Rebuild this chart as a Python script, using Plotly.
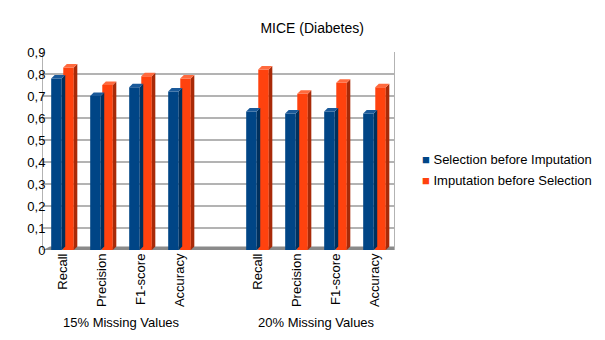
"""
MICE (Diabetes): selection vs imputation order, pseudo-3D grouped bars.
"""

import plotly.graph_objects as go

METRICS = ["Recall", "Precision", "F1-score", "Accuracy"]
GROUPS = ["15% Missing Values", "20% Missing Values"]
SERIES = ["Selection before Imputation", "Imputation before Selection"]

sel_before_imp = [0.78, 0.70, 0.74, 0.72, 0.63, 0.62, 0.63, 0.62]
imp_before_sel = [0.83, 0.75, 0.79, 0.78, 0.82, 0.71, 0.76, 0.74]

Y_TICKS = [0, 0.1, 0.2, 0.3, 0.4, 0.5, 0.6, 0.7, 0.8, 0.9]
Y_TICK_TEXT = ["0", "0,1", "0,2", "0,3", "0,4", "0,5", "0,6", "0,7", "0,8", "0,9"]

FONT = "Liberation Sans, Arial, sans-serif"
FRONT = ["#004586", "#ff420e"]
SIDE = ["#00305d", "#a82a08"]
TOP = ["#1a5a9a", "#ff6a3e"]
GRID = "#b3b3b3"

# slot positions: one empty slot between the two groups
xpos = [i for i in range(4)] + [i + 5 for i in range(4)]
tick_labels = METRICS + METRICS

BAR_W = 0.27
OFFSETS = [-0.29, 0.02]
DX, DY = 0.09, 0.016  # depth of the fake 3D faces

fig = go.Figure()
shapes = []

for k, (name, vals) in enumerate(zip(SERIES, [sel_before_imp, imp_before_sel])):
    fig.add_trace(
        go.Bar(
            x=xpos,
            y=vals,
            name=name,
            width=BAR_W,
            offset=OFFSETS[k],
            marker=dict(color=FRONT[k], line=dict(width=0)),
            hovertemplate="%{y}<extra>" + name + "</extra>",
            showlegend=False,
        )
    )
    for x, v in zip(xpos, vals):
        x0 = x + OFFSETS[k]
        x1 = x0 + BAR_W
        # side face
        shapes.append(dict(
            type="path", xref="x", yref="y", layer="above", line=dict(width=0),
            fillcolor=SIDE[k],
            path=f"M{x1},0 L{x1 + DX},{DY} L{x1 + DX},{v + DY} L{x1},{v} Z",
        ))
        # top face
        shapes.append(dict(
            type="path", xref="x", yref="y", layer="above", line=dict(width=0),
            fillcolor=TOP[k],
            path=f"M{x0},{v} L{x0 + DX},{v + DY} L{x1 + DX},{v + DY} L{x1},{v} Z",
        ))

# floor strip
shapes.append(dict(
    type="path", xref="x", yref="y", layer="below", line=dict(width=0),
    fillcolor="#8a8a8a",
    path=f"M-0.5,0 L{-0.5 + DX * 2},{DY} L{8.5 + DX * 2},{DY} L8.5,0 Z",
))

annotations = []
for g, label in enumerate(GROUPS):
    annotations.append(dict(
        x=1.5 + g * 5, y=-0.365, xref="x", yref="paper", yanchor="middle",
        text=label, showarrow=False,
        font=dict(family=FONT, size=13, color="#000000"),
    ))

# legend drawn as text with coloured square glyphs
for k, name in enumerate(SERIES):
    annotations.append(dict(
        x=1.075, y=0.455 - k * 0.105, xref="paper", yref="paper",
        xanchor="left", yanchor="middle", showarrow=False,
        text=f"<span style='color:{FRONT[k]}'>■</span> {name}",
        font=dict(family=FONT, size=13, color="#000000"),
    ))

fig.update_layout(
    width=605,
    height=340,
    plot_bgcolor="white",
    paper_bgcolor="white",
    margin=dict(l=43, r=211, t=52, b=90, autoexpand=False),
    title=dict(
        text="MICE (Diabetes)",
        x=0.516, xanchor="center", y=0.918, yanchor="middle",
        yref="container", automargin=False,
        font=dict(family=FONT, size=14, color="#000000"),
    ),
    font=dict(family=FONT, size=13, color="#000000"),
    showlegend=False,
    shapes=shapes,
    annotations=annotations,
    xaxis=dict(
        range=[-0.5, 8.5],
        tickvals=xpos,
        ticktext=tick_labels,
        tickangle=-90,
        showgrid=False,
        zeroline=False,
        showline=False,
        ticks="",
        automargin=False,
        tickfont=dict(family=FONT, size=13),
    ),
    yaxis=dict(
        range=[0, 0.9],
        tickvals=Y_TICKS,
        ticktext=Y_TICK_TEXT,
        showgrid=True,
        gridcolor=GRID,
        gridwidth=1.5,
        zeroline=False,
        showline=True,
        linecolor=GRID,
        mirror=True,
        ticks="",
        automargin=False,
        ticklabelstandoff=-6,
        tickfont=dict(family=FONT, size=13),
    ),
)

# the page body has a default 8px margin; drop it so the figure sits at 0,0
fig.write_html(
    "out.html",
    config={"displayModeBar": False},
    post_script="document.body.style.margin='0';",
)
